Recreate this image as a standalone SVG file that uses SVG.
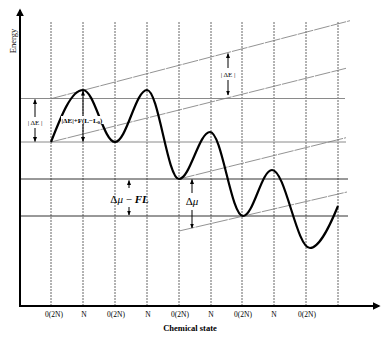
<svg xmlns="http://www.w3.org/2000/svg" width="383" height="353" viewBox="0 0 383 353">
<defs>
<style>
text{font-family:"Liberation Serif","Times New Roman",serif;fill:#000}
.grid{stroke:#666;stroke-width:1;stroke-dasharray:2,1;fill:none}
.hl{stroke:#8a8a8a;stroke-width:1;fill:none}
.hd{stroke:#333;stroke-width:1;fill:none}
.sl{stroke:#777;stroke-width:0.8;stroke-dasharray:16,1;fill:none}
.ax{stroke:#000;stroke-width:2;fill:none}
.arr{stroke:#000;stroke-width:1;fill:none}
.lab{font-size:7.5px;text-anchor:middle}
.small{font-size:7px;text-anchor:middle}
</style>
<marker id="ah" viewBox="0 0 10 10" refX="9" refY="5" markerWidth="5" markerHeight="5" orient="auto-start-reverse">
<path d="M0,1 L10,5 L0,9 Z" fill="#000"/>
</marker>
<marker id="axh" viewBox="0 0 10 10" refX="8" refY="5" markerWidth="4" markerHeight="4" orient="auto">
<path d="M0,0 L10,5 L0,10 Z" fill="#000"/>
</marker>
</defs>
<rect width="383" height="353" fill="#fff"/>

<g id="grid">
<line class="grid" x1="51" y1="22" x2="51" y2="305"/>
<line class="grid" x1="83" y1="22" x2="83" y2="305"/>
<line class="grid" x1="115" y1="22" x2="115" y2="305"/>
<line class="grid" x1="147" y1="22" x2="147" y2="305"/>
<line class="grid" x1="179" y1="22" x2="179" y2="305"/>
<line class="grid" x1="211" y1="22" x2="211" y2="305"/>
<line class="grid" x1="242" y1="22" x2="242" y2="305"/>
<line class="grid" x1="274" y1="22" x2="274" y2="305"/>
<line class="grid" x1="306" y1="22" x2="306" y2="305"/>
<line class="grid" x1="338" y1="22" x2="338" y2="305"/>
</g>

<g id="levels">
<line class="hl" x1="20" y1="98.5" x2="345" y2="98.5"/>
<line class="hl" x1="20" y1="142" x2="346" y2="142"/>
<line class="hd" x1="20" y1="179" x2="348" y2="179"/>
<line class="hd" x1="20" y1="216" x2="348" y2="216"/>
<line class="sl" x1="51" y1="98.7" x2="350" y2="20.7"/>
<line class="sl" x1="51" y1="142" x2="346" y2="68.3"/>
<line class="sl" x1="179" y1="179" x2="346" y2="137.7"/>
<line class="sl" x1="179" y1="231" x2="347" y2="192"/>
</g>

<g id="axes">
<line class="ax" x1="20" y1="306" x2="20" y2="10" marker-end="url(#axh)"/>
<line class="ax" x1="19" y1="306" x2="379" y2="306" marker-end="url(#axh)"/>
<text x="0" y="0" transform="translate(16,41) rotate(-90)" font-size="8.5" text-anchor="middle">Energy</text>
<text x="190" y="331" font-size="8.5" font-weight="bold" text-anchor="middle">Chemical state</text>
</g>

<g id="xlabels">
<text class="lab" x="54" y="317">0(2N)</text>
<text class="lab" x="84" y="317">N</text>
<text class="lab" x="116" y="317">0(2N)</text>
<text class="lab" x="148" y="317">N</text>
<text class="lab" x="180" y="317">0(2N)</text>
<text class="lab" x="211" y="317">N</text>
<text class="lab" x="243" y="317">0(2N)</text>
<text class="lab" x="274" y="317">N</text>
<text class="lab" x="307" y="317">0(2N)</text>
</g>

<g id="curve">
<path d="M51,142 C61.5,115 71.5,90 83,90 C94.5,90 103.5,142 115,142 C126.5,142 135.5,90 147,90 C158.5,90 167.5,179 179,179 C190,179 199,132 210,132 C222,132 231,216 243,216 C253.5,216 261.5,170 272,170 C285.5,170 296.5,248 310,248 C320,248 331,223 338,206" fill="none" stroke="#000" stroke-width="2.2"/>
</g>

<g id="connectors">
<line class="arr" x1="35" y1="117" x2="35" y2="99.5" marker-end="url(#ah)"/>
<line class="arr" x1="35" y1="128" x2="35" y2="141.5" marker-end="url(#ah)"/>
<line class="arr" x1="83" y1="91" x2="83" y2="141.5" marker-start="url(#ah)" marker-end="url(#ah)"/>
<line class="arr" x1="228" y1="68" x2="228" y2="53.5" marker-end="url(#ah)"/>
<line class="arr" x1="228" y1="80" x2="228" y2="95" marker-end="url(#ah)"/>
<line class="arr" x1="129" y1="188" x2="129" y2="180.5" marker-end="url(#ah)"/>
<line class="arr" x1="129" y1="207" x2="129" y2="215" marker-end="url(#ah)"/>
<line class="arr" x1="192" y1="193" x2="192" y2="179.5" marker-end="url(#ah)"/>
<line class="arr" x1="192" y1="210" x2="192" y2="228" marker-end="url(#ah)"/>
</g>

<g id="labels">
<text class="small" x="35" y="125">| ΔE |</text>
<rect x="61" y="116" width="43" height="8" fill="#fff"/>
<text x="82" y="122.5" font-size="7" font-weight="bold" text-anchor="middle">|ΔE|+F(L−L<tspan font-size="5" dy="1.5">0</tspan><tspan dy="-1.5">)</tspan></text>
<text class="small" x="228" y="77">| ΔE |</text>
<text x="129.5" y="203" font-size="11" text-anchor="middle">Δ<tspan font-style="italic">μ</tspan> − <tspan font-style="italic" font-weight="bold">FL</tspan></text>
<text x="192" y="205" font-size="11" text-anchor="middle">Δ<tspan font-style="italic">μ</tspan></text>
</g>
</svg>
